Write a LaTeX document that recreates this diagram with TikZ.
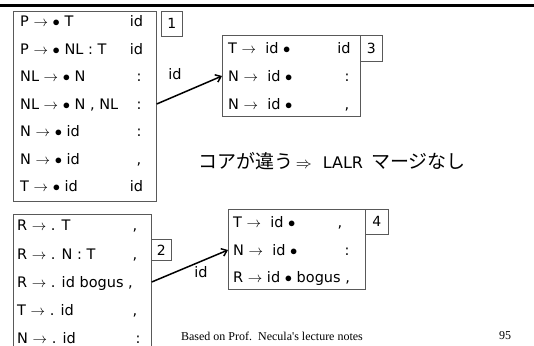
\RequirePackage{fix-cm}
\documentclass[tikz,border=0pt]{standalone}
\usepackage{fontspec}
\setmainfont{DejaVu Sans}
\newfontfamily\cjkfont{Noto Sans CJK JP}
\newfontfamily\footfont{Liberation Serif}
\usetikzlibrary{arrows.meta}
\newcommand\ra{$\rightarrow$}
\newcommand\bu{$\bullet$}
\begin{document}
\begin{tikzpicture}[x=1pt,y=-1pt,
  itembox/.style={draw=black!65,line width=0.7pt,anchor=north west,inner sep=0pt},
  numbox/.style={draw=black!65,line width=0.7pt,inner sep=0pt,font=\fontsize{14}{16}\selectfont},
  row/.style={anchor=west,inner sep=0pt,text height=12pt,text depth=2pt,font=\fontsize{14.5}{17}\selectfont},
  la/.style={anchor=center,inner sep=0pt,text height=12pt,text depth=2pt,font=\fontsize{14.5}{17}\selectfont},
  arr/.style={line width=1.5pt,-{Straight Barb[length=5pt,width=8pt]}},
  lbl/.style={inner sep=0pt,font=\fontsize{14.5}{17}\selectfont}]
\useasboundingbox (0,0) rectangle (534,345);
\clip (0,0) rectangle (534,345);
% top bar
\fill (0,3.8) rectangle (534,7.2);
% box 1
\node[itembox,minimum width=143pt,minimum height=190pt] (b1) at (13,11) {};
\node[numbox,minimum width=21pt,minimum height=25pt,anchor=north west] (n1) at (161,11) {1};
\node[row] (r11) at (20,22) {P \ra\ \bu\ T};
\node[row] (r12) at (20,49) {P \ra\ \bu\ NL : T};
\node[row] (r13) at (20,76) {NL \ra\ \bu\ N};
\node[row] (r14) at (20,104) {NL \ra\ \bu\ N , NL};
\node[row] (r15) at (20,131) {N \ra\ \bu\ id};
\node[row] (r16) at (20,159) {N \ra\ \bu\ id};
\node[row] (r17) at (20,186) {T \ra\ \bu\ id};
\node[la] (l11) at (136.5,22) {id};
\node[la] (l12) at (136.5,49) {id};
\node[la] (l13) at (139,76) {:};
\node[la] (l14) at (139,104) {:};
\node[la] (l15) at (139,131) {:};
\node[la] (l16) at (139,159) {,};
\node[la] (l17) at (136.5,186) {id};
% box 3
\node[itembox,minimum width=138pt,minimum height=81pt] (b3) at (222,35) {};
\node[numbox,minimum width=22pt,minimum height=26pt,anchor=north west] (n3) at (360,35) {3};
\node[row] (r31) at (228,48) {T \ra\ \ id \bu};
\node[row] (r32) at (228,76) {N \ra\ \ id \bu};
\node[row] (r33) at (228,104) {N \ra\ \ id \bu};
\node[la] (l31) at (344,48) {id};
\node[la] (l32) at (347,76) {:};
\node[la] (l33) at (347,104) {,};
% arrow 1 -> 3
\draw[arr] (b1.east |- r14) -- (b3.west |- r32);
\node[lbl] (id1) at (175,74) {id};
% Japanese line
\node[anchor=west,inner sep=0pt,font=\fontsize{16}{20}\selectfont] (jp) at (198,161)
  {{\cjkfont\fontsize{19}{22}\selectfont コアが違う}\,$\Rightarrow$\hspace{11pt}LALR\hspace{8pt}{\cjkfont\fontsize{19}{22}\selectfont マージなし}};
% box 2
\node[itembox,minimum width=138pt,minimum height=150pt] (b2) at (13,214) {};
\node[numbox,minimum width=20pt,minimum height=21pt,anchor=north west] (n2) at (151,239) {2};
\node[row] (r21) at (17,225) {R \ra\ . T};
\node[row] (r22) at (17,254) {R \ra\ . N : T};
\node[row] (r23) at (17,282) {R \ra\ . id bogus ,};
\node[row] (r24) at (17,310) {T \ra\ . id};
\node[row] (r25) at (17,338) {N \ra\ . id};
\node[la] (l21) at (135,225) {,};
\node[la] (l22) at (135,254) {,};
\node[la] (l24) at (135,310) {,};
\node[la] (l25) at (138,338) {:};
% box 4
\node[itembox,minimum width=137pt,minimum height=80pt] (b4) at (228,209) {};
\node[numbox,minimum width=23pt,minimum height=25pt,anchor=north west] (n4) at (365,209) {4};
\node[row] (r41) at (233,222) {T \ra\ \ id \bu};
\node[row] (r42) at (233,250) {N \ra\ \ id \bu};
\node[row] (r43) at (233,277) {R \ra\ id \bu\ bogus ,};
\node[la] (l41) at (340,222) {,};
\node[la] (l42) at (347,250) {:};
% arrow 2 -> 4
\draw[arr] (b2.east |- r23) -- (b4.west |- r42);
\node[lbl] (id2) at (201,272) {id};
% footer
\node[inner sep=0pt,font=\footfont\fontsize{12}{14}\selectfont] (foot) at (272,336) {Based on Prof.\ \ Necula's lecture notes};
\node[inner sep=0pt,font=\footfont\fontsize{12}{14}\selectfont] (page) at (505,336) {95};
\end{tikzpicture}
\end{document}
